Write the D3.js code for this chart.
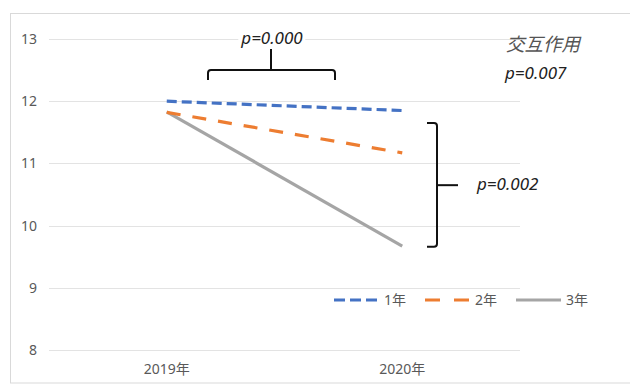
<!DOCTYPE html>
<html><head><meta charset="utf-8">
<script src="https://cdn.jsdelivr.net/npm/d3@7"></script>
<style>
body{margin:0;background:#fff;}
svg{display:block;}
text{font-family:"Noto Sans","Noto Sans CJK JP",sans-serif;}
</style></head>
<body>
<script>
const categories = ["2019年", "2020年"];
const seriesNames = ["1年", "2年", "3年"];
const series1 = [12.00, 11.85];
const series2 = [11.82, 11.17];
const series3 = [11.83, 9.67];
const yTicks = [8, 9, 10, 11, 12, 13];
const colors = ["#4472C4", "#ED7D31", "#A5A5A5"];
const dashes = ["10,5", "14,12", null];

const W = 630, H = 385;
const svg = d3.select("body").append("svg").attr("width", W).attr("height", H);

// outer frame
svg.append("rect").attr("x", 10.5).attr("y", 13.5).attr("width", 640).attr("height", 369.5)
  .attr("fill", "#fff").attr("stroke", "#d9d9d9").attr("stroke-width", 1);

const x = d3.scaleBand().domain(categories).range([49, 520]);
const y = d3.scaleLinear().domain([8, 13]).range([350, 39]);

// gridlines
svg.append("g").selectAll("line").data(yTicks).join("line")
  .attr("x1", 49).attr("x2", 520)
  .attr("y1", d => Math.round(y(d)) + 0.5).attr("y2", d => Math.round(y(d)) + 0.5)
  .attr("stroke", "#e3e3e3").attr("stroke-width", 1);

// y axis labels
const yAxis = d3.axisLeft(y).tickValues(yTicks).tickSize(0).tickPadding(0).tickFormat(d3.format("d"));
const gy = svg.append("g").attr("transform", "translate(37,0)").call(yAxis);
gy.select(".domain").remove();
gy.selectAll("text").attr("font-size", 14).attr("fill", "#595959")
  .style("font-family", '"Noto Sans","Noto Sans CJK JP",sans-serif');

// x axis labels
const xAxis = d3.axisBottom(x).tickSize(0).tickPadding(0);
const gx = svg.append("g").attr("transform", "translate(0,364)").call(xAxis);
gx.select(".domain").remove();
gx.selectAll("text").attr("font-size", 14).attr("fill", "#595959")
  .style("font-family", '"Noto Sans","Noto Sans CJK JP",sans-serif');

// lines
const allSeries = [series1, series2, series3];
const line = d3.line().x((d, i) => x(categories[i]) + x.bandwidth() / 2).y(d => y(d));
[2, 1, 0].forEach(k => {
  svg.append("path").datum(allSeries[k]).attr("d", line)
    .attr("fill", "none").attr("stroke", colors[k]).attr("stroke-width", 3.2)
    .attr("stroke-dasharray", dashes[k]);
});

// legend
const legendX = [334, 425, 516];
const lg = svg.append("g");
seriesNames.forEach((n, k) => {
  lg.append("line").attr("x1", legendX[k]).attr("x2", legendX[k] + 45)
    .attr("y1", 300).attr("y2", 300).attr("stroke", colors[k]).attr("stroke-width", 3.2)
    .attr("stroke-dasharray", k === 0 ? "11,5" : (k === 1 ? "15,14" : null));
  lg.append("text").attr("x", legendX[k] + 50).attr("y", 300).attr("dy", "0.35em")
    .attr("font-size", 14).attr("fill", "#595959").text(n);
});

// annotations
const ann = svg.append("g").attr("fill", "none").attr("stroke", "#111").attr("stroke-width", 2);
const tb = {x1: 208, x2: 335, xm: 271, yv: 12.50, yEnd: 12.34, yStem: 12.84};
ann.append("path").attr("d",
  `M${tb.x1},${y(tb.yEnd)} L${tb.x1},${y(tb.yv)+3} Q${tb.x1},${y(tb.yv)} ${tb.x1+3},${y(tb.yv)} L${tb.x2-3},${y(tb.yv)} Q${tb.x2},${y(tb.yv)} ${tb.x2},${y(tb.yv)+3} L${tb.x2},${y(tb.yEnd)}`);
ann.append("line").attr("x1", tb.xm).attr("x2", tb.xm).attr("y1", y(tb.yStem)).attr("y2", y(tb.yv));
const rb = {x: 437, xEnd: 427, xStem: 458, yTop: 11.65, yBot: 9.66, yMid: 10.65};
ann.append("path").attr("d",
  `M${rb.xEnd},${y(rb.yTop)} L${rb.x-3},${y(rb.yTop)} Q${rb.x},${y(rb.yTop)} ${rb.x},${y(rb.yTop)+3} L${rb.x},${y(rb.yBot)-3} Q${rb.x},${y(rb.yBot)} ${rb.x-3},${y(rb.yBot)} L${rb.xEnd},${y(rb.yBot)}`);
ann.append("line").attr("x1", rb.x).attr("x2", rb.xStem).attr("y1", y(rb.yMid)).attr("y2", y(rb.yMid));

const t0 = svg.append("text").attr("x", 272).attr("y", 44).attr("text-anchor", "middle")
  .attr("font-size", 17).attr("font-style", "italic").attr("fill", "#222").text("p=0.000");
const bb = t0.node().getBBox();
svg.insert("rect", () => t0.node()).attr("x", bb.x - 2).attr("y", bb.y).attr("width", bb.width + 4).attr("height", bb.height)
  .attr("fill", "#fff");

svg.append("text").attr("x", 477).attr("y", 190).attr("font-size", 17).attr("font-style", "italic")
  .attr("fill", "#222").text("p=0.002");
svg.append("text").attr("x", 506).attr("y", 51).attr("font-size", 18.5).attr("font-style", "italic")
  .attr("fill", "#555").text("交互作用");
svg.append("text").attr("x", 505).attr("y", 79).attr("font-size", 17).attr("font-style", "italic")
  .attr("fill", "#222").text("p=0.007");
</script>
</body></html>
